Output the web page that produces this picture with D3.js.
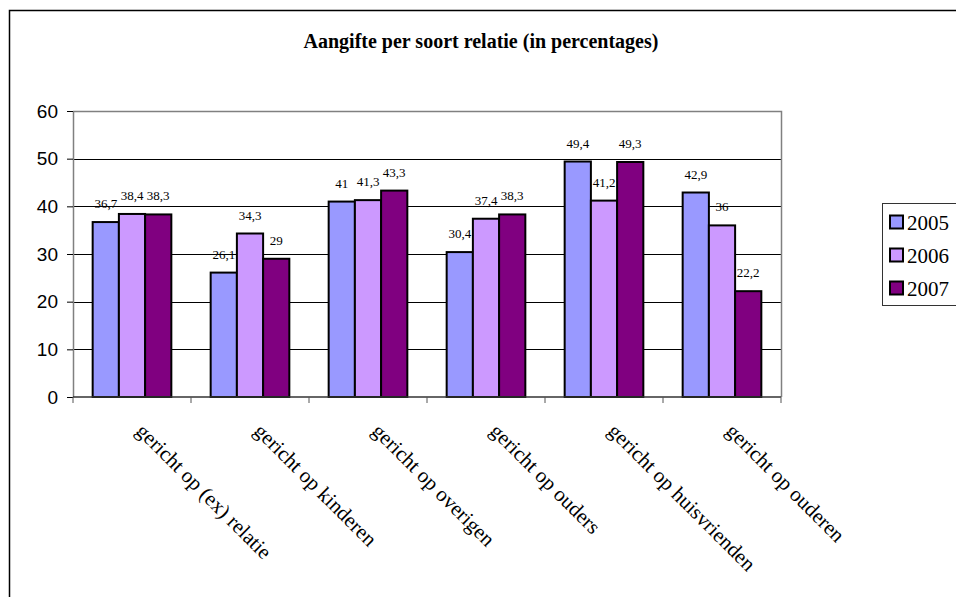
<!DOCTYPE html>
<html lang="nl">
<head>
<meta charset="UTF-8">
<title>Aangifte per soort relatie</title>
<script src="https://d3js.org/d3.v7.min.js"></script>
<style>
  body { margin: 0; padding: 0; background: #fff; }
  svg { display: block; }
</style>
</head>
<body>
<svg id="chart"></svg>
<script>
  const categories = [
    "gericht op (ex) relatie",
    "gericht op kinderen",
    "gericht op overigen",
    "gericht op ouders",
    "gericht op huisvrienden",
    "gericht op ouderen"
  ];
  const years = ["2005", "2006", "2007"];
  const values2005 = [36.7, 26.1, 41, 30.4, 49.4, 42.9];
  const values2006 = [38.4, 34.3, 41.3, 37.4, 41.2, 36];
  const values2007 = [38.3, 29, 43.3, 38.3, 49.3, 22.2];
  const yTicks = [0, 10, 20, 30, 40, 50, 60];
  const colors = ["#9999FF", "#CC99FF", "#800080"];

  const series = [values2005, values2006, values2007];

  const width = 956, height = 597;
  const plot = { left: 73, right: 781, top: 111, bottom: 397 };
  const serif = "'Liberation Serif', 'Times New Roman', serif";

  const svg = d3.select("#chart")
    .attr("width", width)
    .attr("height", height);

  // chart border
  svg.append("rect")
    .attr("x", 9.5).attr("y", 10.5)
    .attr("width", 1000).attr("height", 700)
    .attr("fill", "#fff")
    .attr("stroke", "#000")
    .attr("stroke-width", 1.5);

  svg.append("text")
    .attr("x", 481).attr("y", 48)
    .attr("text-anchor", "middle")
    .attr("font-family", serif)
    .attr("font-weight", "bold")
    .attr("font-size", 20)
    .text("Aangifte per soort relatie (in percentages)");

  const x0 = d3.scaleBand()
    .domain(categories)
    .range([plot.left, plot.right])
    .paddingInner(0)
    .paddingOuter(0);

  // gap width 150% -> bars take 3/4.5 of each band
  const barW = x0.bandwidth() / 4.5;
  const x1 = d3.scaleBand()
    .domain(years)
    .range([barW * 0.75, barW * 3.75]);

  const y = d3.scaleLinear()
    .domain([0, 60])
    .range([plot.bottom, plot.top]);

  // gridlines
  svg.append("g")
    .selectAll("line")
    .data(yTicks.filter(t => t > 0 && t < 60))
    .join("line")
    .attr("x1", plot.left).attr("x2", plot.right)
    .attr("y1", d => Math.round(y(d)) + 0.5)
    .attr("y2", d => Math.round(y(d)) + 0.5)
    .attr("stroke", "#000")
    .attr("stroke-width", 1);

  // plot area frame (top, right)
  svg.append("path")
    .attr("d", `M${plot.left},${Math.round(plot.top) + 0.5}H${plot.right + 0.5}V${plot.bottom}`)
    .attr("fill", "none")
    .attr("stroke", "#808080")
    .attr("stroke-width", 1.5);

  // bars
  const groups = svg.append("g")
    .selectAll("g")
    .data(categories)
    .join("g")
    .attr("transform", d => `translate(${x0(d)},0)`);

  groups.selectAll("rect")
    .data((d, i) => years.map((yr, s) => ({ yr, s, v: series[s][i] })))
    .join("rect")
    .attr("x", d => x1(d.yr))
    .attr("y", d => y(d.v))
    .attr("width", x1.bandwidth())
    .attr("height", d => plot.bottom - y(d.v))
    .attr("fill", d => colors[d.s])
    .attr("stroke", "#000")
    .attr("stroke-width", 2);

  groups.selectAll("text")
    .data((d, i) => years.map((yr, s) => ({ yr, s, v: series[s][i] })))
    .join("text")
    .attr("x", d => x1(d.yr) + x1.bandwidth() / 2)
    .attr("y", d => y(d.v) - 14)
    .attr("text-anchor", "middle")
    .attr("font-family", serif)
    .attr("font-size", 13)
    .attr("fill", "#000")
    .text(d => String(d.v).replace(".", ","));

  // y axis
  const yAxis = svg.append("g")
    .attr("transform", `translate(${plot.left},0)`)
    .call(d3.axisLeft(y).tickValues(yTicks).tickSize(6).tickPadding(9).tickSizeOuter(0));
  yAxis.select(".domain").attr("stroke", "#808080").attr("stroke-width", 1.5);
  yAxis.selectAll(".tick line").attr("stroke", "#000");
  yAxis.selectAll(".tick text")
    .attr("font-family", "Arial, 'Liberation Sans', sans-serif")
    .attr("font-size", 19)
    .attr("fill", "#000");

  // x axis line with ticks at category boundaries
  const xAxis = svg.append("g");
  xAxis.append("line")
    .attr("x1", plot.left).attr("x2", plot.right)
    .attr("y1", plot.bottom).attr("y2", plot.bottom)
    .attr("stroke", "#333").attr("stroke-width", 1.5);
  xAxis.selectAll("line.tk")
    .data(categories.concat(["end"]))
    .join("line")
    .attr("class", "tk")
    .attr("x1", (d, i) => i < categories.length ? x0(d) : plot.right)
    .attr("x2", (d, i) => i < categories.length ? x0(d) : plot.right)
    .attr("y1", plot.bottom).attr("y2", plot.bottom + 6)
    .attr("stroke", "#555").attr("stroke-width", 1);

  xAxis.selectAll("text")
    .data(categories)
    .join("text")
    .attr("transform", d => `translate(${x0(d) + x0.bandwidth() / 2 + 14},${plot.bottom + 24}) rotate(45)`)
    .attr("dy", "0.75em")
    .attr("text-anchor", "start")
    .attr("font-family", serif)
    .attr("font-size", 21)
    .attr("fill", "#000")
    .text(d => d);

  // legend
  const legend = svg.append("g");
  legend.append("rect")
    .attr("x", 882.5).attr("y", 203.5)
    .attr("width", 100).attr("height", 102)
    .attr("fill", "#fff")
    .attr("stroke", "#333").attr("stroke-width", 1);

  const item = legend.selectAll("g.item")
    .data(years)
    .join("g")
    .attr("class", "item")
    .attr("transform", (d, i) => `translate(890,${222 + i * 33})`);
  item.append("rect")
    .attr("x", 0).attr("y", -6.5)
    .attr("width", 13).attr("height", 13)
    .attr("fill", (d, i) => colors[i])
    .attr("stroke", "#000").attr("stroke-width", 2);
  item.append("text")
    .attr("x", 17).attr("y", 8)
    .attr("font-family", serif)
    .attr("font-size", 21)
    .attr("fill", "#000")
    .text(d => d);
</script>
</body>
</html>
